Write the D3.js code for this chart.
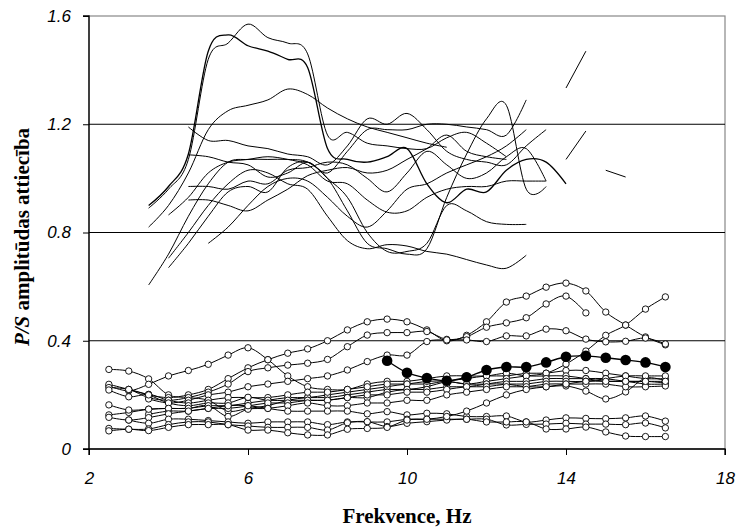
<!DOCTYPE html>
<html><head><meta charset="utf-8">
<script src="https://cdn.jsdelivr.net/npm/d3@7"></script>
<style>body{margin:0;background:#fff}svg{display:block}</style>
</head><body>
<script>
// ---------- DATA ----------
const yTicks = [0, 0.4, 0.8, 1.2, 1.6];
const xTicks = [2, 6, 10, 14, 18];
const xTitle = "Frekvence, Hz";
const yTitleItalic = "P/S";
const yTitleRest = " amplitūdas attiecība";

// Upper group (smoothed lines, no markers)
const freqUpper = [3.5,4,4.5,5,5.5,6,6.5,7,7.5,8,8.5,9,9.5,10,10.5,11,11.5,12,12.5,13,13.5,14,14.5,15,15.5];
const up1 = [0.89,0.96,1.07,1.44,1.50,1.57,1.52,1.50,1.46,1.16,1.17,1.13,1.12,1.11,1.11,1.15,1.17,1.13,1.08,null,null,null,null,null,null];
const up2 = [0.90,0.97,1.09,1.47,1.53,1.49,1.47,1.44,1.41,1.11,1.07,1.06,1.08,1.11,0.98,0.91,0.96,0.95,1.03,1.07,1.06,0.98,null,null,null];
const up3 = [0.82,0.90,1.02,1.18,1.25,1.27,1.29,1.33,1.31,1.26,1.22,1.19,1.17,1.15,1.13,1.115,null,null,null,null,null,1.334,1.47,null,null];
const up4 = [null,null,1.19,1.14,1.14,1.12,1.11,1.09,1.08,1.05,1.12,1.22,1.20,1.24,1.18,1.10,1.07,1.06,1.05,1.12,1.18,null,null,null,null];
const up5 = [null,null,1.087,1.08,1.06,1.05,1.005,1.02,1.06,1.02,1.10,1.18,1.18,1.18,1.20,1.20,1.19,1.18,1.16,1.29,null,null,null,null,null];
const up6 = [0.606,0.72,0.86,0.98,1.06,1.07,1.07,1.07,1.06,1.00,0.88,0.76,0.74,0.72,0.74,0.93,1.09,1.22,1.27,0.96,0.97,null,null,null,null];
const up7 = [null,0.865,0.93,1.02,1.06,1.07,1.08,1.07,1.05,0.99,0.98,0.92,0.875,0.88,0.93,0.96,0.97,0.97,0.99,0.99,0.99,null,null,null,null];
const up8 = [null,0.705,0.80,0.90,0.98,1.03,1.02,0.98,0.96,0.86,0.77,0.74,0.755,0.75,0.73,0.72,0.70,0.68,0.668,0.716,null,null,null,1.03,1.005];
const up9 = [null,0.67,0.76,0.86,0.95,0.97,0.95,1.04,1.06,1.00,0.93,0.80,0.73,0.73,0.76,0.90,0.88,0.84,0.83,0.83,null,null,null,null,null];
const up10 = [null,null,0.97,0.97,0.96,0.99,0.98,1.03,1.04,1.06,1.05,1.00,0.95,1.02,1.10,1.05,1.00,1.02,1.08,1.11,0.99,null,null,null,null];
const up11 = [null,null,0.92,0.92,0.90,0.88,0.92,0.96,1.01,1.03,1.04,1.02,1.03,1.07,1.11,1.16,1.10,1.08,1.07,null,null,1.07,1.175,null,null];
const up12 = [null,null,null,0.76,0.82,0.90,0.97,1.00,0.99,0.93,0.86,0.82,0.88,0.96,0.98,1.02,1.05,1.08,1.12,1.18,null,null,null,null,null];
const upperSeries = [up1, up2, up3, up4, up5, up6, up7, up8, up9, up10, up11, up12];

// Lower group (open circle markers)
const freqLower = [2.5,3,3.5,4,4.5,5,5.5,6,6.5,7,7.5,8,8.5,9,9.5,10,10.5,11,11.5,12,12.5,13,13.5,14,14.5,15,15.5,16,16.5];
const lo1 = [0.294,0.288,0.259,0.20,0.19,0.18,0.14,0.15,0.16,0.18,0.19,0.19,0.20,0.21,0.22,0.22,0.23,0.25,0.26,0.27,0.27,0.28,0.28,0.29,0.29,0.28,0.27,0.26,0.26];
const lo2 = [0.233,0.215,0.239,0.27,0.29,0.313,0.347,0.374,0.33,0.27,0.23,0.22,0.22,0.24,0.25,0.25,0.26,0.27,0.27,0.27,0.28,0.27,0.27,0.27,0.26,0.25,0.25,0.24,0.24];
const lo3 = [0.239,0.22,0.20,0.19,0.20,0.22,0.26,0.30,0.33,0.354,0.37,0.40,0.44,0.47,0.48,0.47,0.44,0.40,0.42,0.47,0.543,0.565,0.598,0.613,0.584,0.506,0.458,0.414,0.385];
const lo4 = [0.227,0.22,0.19,0.18,0.19,0.21,0.24,0.286,0.30,0.31,0.317,0.331,0.378,0.421,0.43,0.43,0.434,0.405,0.415,0.45,0.466,0.485,0.536,0.565,0.503,null,null,null,null];
const lo5 = [null,null,0.185,0.17,0.18,0.20,0.21,0.23,0.24,0.25,0.26,0.27,0.292,0.323,0.347,0.347,0.397,0.403,0.403,0.397,0.418,0.418,0.443,0.437,0.406,0.396,0.398,0.41,0.388];
const lo6 = [0.126,0.135,0.147,0.15,0.15,0.16,0.16,0.17,0.18,0.19,0.19,0.20,0.21,0.22,0.23,0.24,0.24,0.25,0.24,0.25,0.26,0.27,0.28,0.314,0.362,0.42,0.458,0.517,0.562];
const lo7 = [0.218,0.193,0.202,0.18,0.17,0.18,0.19,0.19,0.19,0.20,0.21,0.21,0.22,0.23,0.24,0.24,0.25,0.25,0.24,0.24,0.24,0.23,0.23,0.233,0.214,0.185,0.211,0.262,0.252];
const lo8 = [null,0.22,0.20,0.17,0.16,0.17,0.17,0.191,0.18,0.18,0.18,0.18,0.19,0.19,0.21,0.22,0.22,0.23,0.23,0.24,0.25,0.25,0.26,0.26,0.26,0.26,0.25,0.25,0.244];
const lo9 = [null,null,0.128,0.14,0.14,0.15,0.15,0.159,0.17,0.17,0.18,0.18,0.19,0.20,0.20,0.21,0.21,0.22,0.23,0.23,0.24,0.24,0.25,0.25,0.25,0.26,0.27,0.27,0.27];
const lo10 = [0.163,0.144,0.147,0.15,0.15,0.16,0.12,0.147,0.15,0.16,0.17,0.16,0.16,0.17,0.17,0.18,0.18,0.20,0.21,0.22,0.23,0.23,0.24,0.24,0.24,0.24,0.23,0.23,0.233];
const lo11 = [0.117,0.107,0.116,0.13,0.14,0.15,0.16,0.16,0.15,0.14,0.14,0.14,0.14,0.13,0.138,0.126,0.132,0.13,0.12,0.12,0.122,0.10,0.107,0.115,0.113,0.112,0.115,0.122,0.103];
const lo12 = [null,0.107,0.095,0.11,0.11,0.105,0.10,0.095,0.10,0.10,0.10,0.09,0.10,0.10,0.10,0.11,0.11,0.11,0.11,0.11,0.089,0.091,0.092,0.095,0.092,0.092,0.09,0.096,0.078];
const lo13 = [0.076,0.073,0.074,0.09,0.10,0.10,0.09,0.085,0.08,0.08,0.08,0.07,0.097,0.101,0.083,0.095,0.101,0.107,0.11,0.10,0.10,0.10,0.074,0.074,0.081,0.063,0.048,0.046,0.046];
const lo14 = [0.067,0.073,0.068,0.08,0.09,0.09,0.09,0.07,0.07,0.06,0.052,0.052,0.073,0.076,0.08,0.107,0.11,0.12,0.14,0.17,0.20,0.22,0.23,0.24,0.25,0.25,0.25,0.25,0.25];
const lowerSeries = [lo1, lo2, lo3, lo4, lo5, lo6, lo7, lo8, lo9, lo10, lo11, lo12, lo13, lo14];

// Highlighted series (filled markers)
const freqFilled = [9.5,10,10.5,11,11.5,12,12.5,13,13.5,14,14.5,15,15.5,16,16.5];
const filledVals = [0.326,0.282,0.262,0.252,0.265,0.292,0.303,0.303,0.32,0.341,0.344,0.337,0.329,0.32,0.303];

// ---------- DRAW ----------
const W = 738, H = 529;
const svg = d3.select("body").append("svg").attr("width", W).attr("height", H);
const x = d3.scaleLinear().domain([2, 18]).range([89, 725]);
const y = d3.scaleLinear().domain([0, 1.6]).range([449, 16]);

svg.append("rect").attr("x", x(2)).attr("y", y(1.6))
  .attr("width", x(18) - x(2)).attr("height", y(0) - y(1.6))
  .attr("fill", "none").attr("stroke", "#888").attr("stroke-width", 1.2);

svg.append("g").selectAll("line").data(yTicks.filter(v => v > 0 && v < 1.6)).join("line")
  .attr("x1", x(2)).attr("x2", x(18)).attr("y1", d => y(d)).attr("y2", d => y(d))
  .attr("stroke", "#000").attr("stroke-width", 1);

const toPts = (xs, ys) => xs.map((xv, i) => ({x: xv, y: ys[i]}));
const line = d3.line().defined(d => d.y != null)
  .x(d => x(d.x)).y(d => y(d.y)).curve(d3.curveCatmullRom.alpha(0));

const gU = svg.append("g");
upperSeries.forEach((s, i) => {
  gU.append("path").datum(toPts(freqUpper, s)).attr("d", line)
    .attr("fill", "none").attr("stroke", "#000").attr("stroke-width", i === 1 ? 1.3 : 1);
});

const gL = svg.append("g");
lowerSeries.forEach(s => {
  gL.append("path").datum(toPts(freqLower, s)).attr("d", line)
    .attr("fill", "none").attr("stroke", "#000").attr("stroke-width", 1);
});
lowerSeries.forEach(s => {
  gL.append("g").selectAll("circle").data(toPts(freqLower, s).filter(d => d.y != null)).join("circle")
    .attr("cx", d => x(d.x)).attr("cy", d => y(d.y)).attr("r", 3.2)
    .attr("fill", "#fff").attr("stroke", "#000").attr("stroke-width", 0.9);
});
const fPts = toPts(freqFilled, filledVals);
svg.append("path").datum(fPts).attr("d", line)
  .attr("fill", "none").attr("stroke", "#000").attr("stroke-width", 1.4);
svg.append("g").selectAll("circle").data(fPts).join("circle")
  .attr("cx", d => x(d.x)).attr("cy", d => y(d.y)).attr("r", 5.3).attr("fill", "#000");

const yAxis = d3.axisLeft(y).tickValues(yTicks).tickSize(6).tickPadding(12)
  .tickFormat(d => d === 0 ? "0" : d3.format(".1f")(d));
const xAxis = d3.axisBottom(x).tickValues(xTicks).tickSize(6).tickPadding(17).tickFormat(d3.format("d"));
const gy = svg.append("g").attr("transform", `translate(${x(2)},0)`).call(yAxis);
const gx = svg.append("g").attr("transform", `translate(0,${y(0)})`).call(xAxis);
[gx, gy].forEach(g => {
  g.select(".domain").attr("stroke", "#000").attr("stroke-width", 1.3);
  g.selectAll(".tick line").attr("stroke", "#000");
  g.selectAll("text").attr("fill", "#000")
    .style("font-family", "'Liberation Sans', Arial, sans-serif")
    .style("font-style", "italic").style("font-size", "17px");
});
gx.select(".domain").attr("d", `M${x(2)},6V0H${x(18)}V6`);
gy.select(".domain").attr("d", `M-6,${y(0)}H0V${y(1.6)}H-6`);

svg.append("text").attr("x", 407).attr("y", 523).attr("text-anchor", "middle")
  .style("font-family", "'Liberation Serif', 'Times New Roman', serif")
  .style("font-weight", "bold").style("font-size", "21px").text(xTitle);
const yt = svg.append("text").attr("transform", "translate(29,237) rotate(-90)")
  .attr("text-anchor", "middle")
  .style("font-family", "'Liberation Serif', 'Times New Roman', serif")
  .style("font-weight", "bold").style("font-size", "21px");
yt.append("tspan").style("font-style", "italic").text(yTitleItalic);
yt.append("tspan").text(yTitleRest);
</script>
</body></html>
